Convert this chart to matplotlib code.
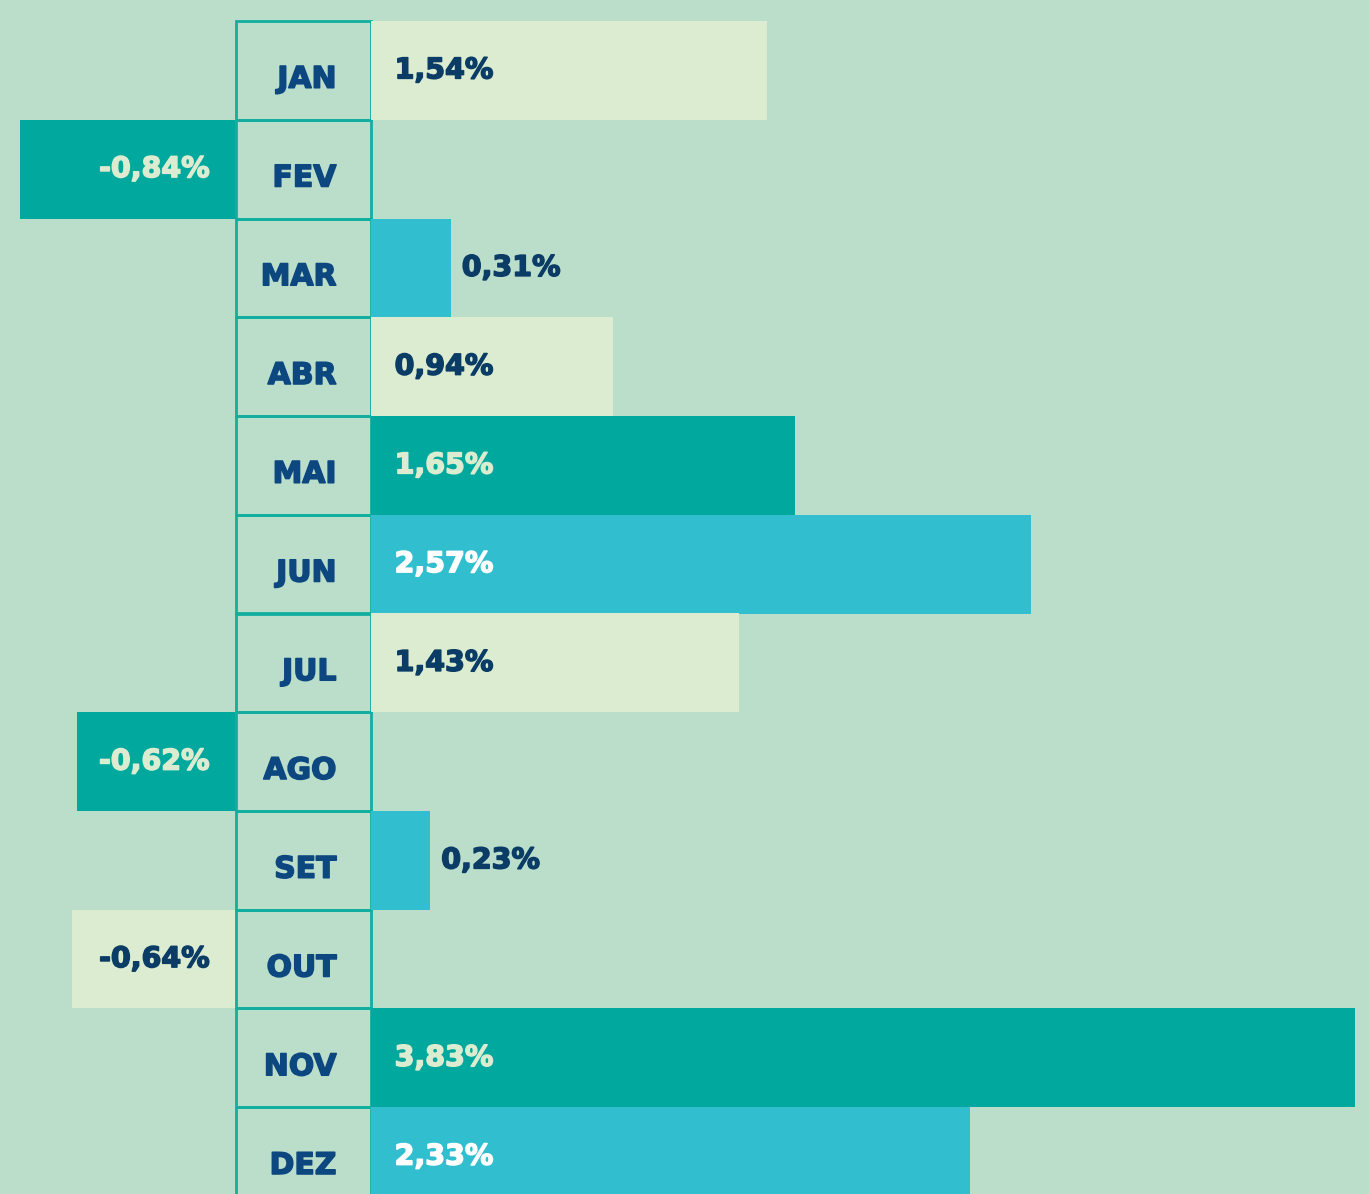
import matplotlib
matplotlib.use("Agg")
import matplotlib.pyplot as plt
import matplotlib.patheffects as pe

# Dados
months = ["JAN", "FEV", "MAR", "ABR", "MAI", "JUN",
          "JUL", "AGO", "SET", "OUT", "NOV", "DEZ"]
values = [1.54, -0.84, 0.31, 0.94, 1.65, 2.57,
          1.43, -0.62, 0.23, -0.64, 3.83, 2.33]
labels = ["1,54%", "-0,84%", "0,31%", "0,94%", "1,65%", "2,57%",
          "1,43%", "-0,62%", "0,23%", "-0,64%", "3,83%", "2,33%"]

# Cores
BG = "#BBDECB"
LIGHT = "#DCECD0"
TEAL = "#00A89D"
CYAN = "#31BECE"
NAVY = "#0A3C66"
MONTH_C = "#0D4780"
EDGE = "#12AE9F"

bar_colors = [LIGHT, TEAL, CYAN] * 4
text_colors = {LIGHT: NAVY, TEAL: LIGHT, CYAN: "white"}

W, H = 1369, 1194
PX_PER_PCT = 257.0
ROW_H = 98.75
TOP = 21


def heavy(color):
    # DejaVu Sans Bold ist etwas duenn -> leicht nachziehen
    return [pe.withStroke(linewidth=1.1, foreground=color)]


fig = plt.figure(figsize=(W / 100, H / 100), dpi=100, facecolor=BG)

x_left, x_mid, x_right = 0, 236, 371
ax_neg = fig.add_axes([x_left / W, 0, (x_mid - x_left) / W, 1])
ax_lab = fig.add_axes([x_mid / W, 0, (x_right - x_mid) / W, 1])
ax_pos = fig.add_axes([x_right / W, 0, (W - x_right) / W, 1])

ylim = (H / ROW_H - TOP / ROW_H, -TOP / ROW_H)
for ax in (ax_neg, ax_lab, ax_pos):
    ax.set_ylim(*ylim)
    ax.axis("off")
    ax.patch.set_alpha(0)

ax_neg.set_xlim(-(x_mid - x_left) / PX_PER_PCT, 0)
ax_pos.set_xlim(0, (W - x_right) / PX_PER_PCT)
ax_lab.set_xlim(0, 1)

ypos = [i + 0.5 for i in range(len(months))]

for y, v, lab, c in zip(ypos, values, labels, bar_colors):
    if v >= 0:
        ax_pos.barh(y, v, height=1.0, color=c, linewidth=0)
        if v < 0.5:
            tc = NAVY
            ax_pos.annotate(lab, (v, y), xytext=(8, 0), textcoords="offset points",
                            ha="left", va="center", color=tc,
                            fontsize=20.5, fontweight="bold", path_effects=heavy(tc))
        else:
            tc = text_colors[c]
            ax_pos.annotate(lab, (0, y), xytext=(17, 0), textcoords="offset points",
                            ha="left", va="center", color=tc,
                            fontsize=20.5, fontweight="bold", path_effects=heavy(tc))
    else:
        tc = text_colors[c]
        ax_neg.barh(y, v, height=1.0, color=c, linewidth=0)
        ax_neg.annotate(lab, (0, y), xytext=(-19, 0), textcoords="offset points",
                        ha="right", va="center", color=tc,
                        fontsize=20.5, fontweight="bold", path_effects=heavy(tc))

# Spalte mit den Monaten
ax_lab.barh(ypos, [1] * len(months), left=0, height=1.0, fill=False,
            edgecolor=EDGE, linewidth=2, clip_on=False)
for y, m in zip(ypos, months):
    ax_lab.text(0.745, y + 0.09, m, ha="right", va="center", color=MONTH_C,
                fontsize=21.5, fontweight="bold", path_effects=heavy(MONTH_C))

fig.savefig("out.png", dpi=100, facecolor=BG)
